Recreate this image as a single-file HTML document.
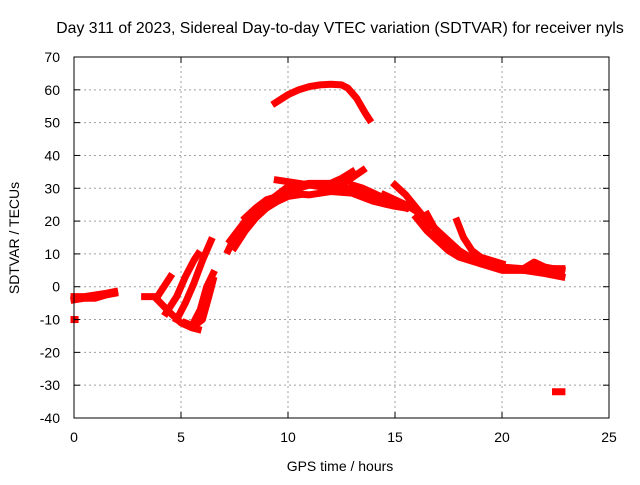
<!DOCTYPE html>
<html><head><meta charset="utf-8"><style>
body{margin:0;background:#fff}
svg text{font-family:"Liberation Sans",sans-serif;font-size:14px;fill:#000}
</style></head><body>
<svg id="chart" width="640" height="480">
<text x="340" y="33" text-anchor="middle" style="font-size:15.8px">Day 311 of 2023, Sidereal Day-to-day VTEC variation (SDTVAR) for receiver nyls</text>
<g id="grid"></g><g id="series"></g><g id="axes"></g>
<text x="340" y="471" text-anchor="middle">GPS time / hours</text>
<text transform="translate(19,238) rotate(-90)" text-anchor="middle">SDTVAR / TECUs</text>
</svg>
<script>
const xTicks=[0,5,10,15,20,25];
const yTicks=[70,60,50,40,30,20,10,0,-10,-20,-30,-40];
const tracks=[
[[9.4,56],[10,58.5],[10.5,60],[11,61],[11.5,61.5],[12,61.7],[12.5,61.5],[12.8,60.5],[13.2,57.5],[13.6,53],[13.8,51]],
[[0,-3],[0.5,-3],[1,-2.5],[1.5,-2],[1.9,-1.5]],
[[0,-4],[0.5,-3.5],[1,-3.5],[1.5,-2.5],[1.9,-2]],
[[3.3,-3],[3.9,-3]],
[[0,-10],[0.05,-10]],
[[22.5,-32],[22.8,-32]],
[[3.9,-4],[4.5,-8],[5,-11],[5.5,-12.5],[5.8,-13]],
[[4.3,-8],[4.8,-3],[5.2,3],[5.6,8],[5.8,10]],
[[4.8,-10],[5.2,-5],[5.6,1],[6,8],[6.4,14]],
[[5.5,-12],[5.9,-7],[6.2,0],[6.5,4]],
[[5.2,-11],[5.6,-12],[6,-10],[6.3,-3],[6.5,2]],
[[4,-2],[4.5,3]],
[[7.2,11],[7.5,15],[8,19],[8.5,22],[9,25],[9.5,27],[10,29],[10.5,30],[11,31],[11.5,31],[12,31],[12.5,30],[13,29],[13.5,28],[14,27],[14.5,26],[15,25],[15.5,24]],
[[7.3,14],[8,20],[8.5,23],[9,25.5],[9.5,28],[10,30.5],[11,31.5],[12,31.5],[12.5,33],[13,35]],
[[7.5,12],[8,17],[8.5,21],[9,24],[9.5,26],[10,27.5],[10.5,28]],
[[8,21],[8.5,24],[9,26.5],[9.5,27.5]],
[[9.5,32.5],[10,32],[11,31],[12,30],[13,30],[14,27],[15,25]],
[[12.5,31],[13.5,35.5]],
[[10,28.5],[11,28],[12,29],[13,28.5],[14,26],[15,24.5],[15.5,24]],
[[13,31],[13.5,30],[14,28.5],[14.5,27],[15.5,25]],
[[15,31],[15.5,28],[16,24],[16.5,20],[17,17],[17.5,14],[18,11],[18.5,9],[19,7.5],[20,6],[21,5.5],[21.5,7.5],[22,6],[22.8,5]],
[[16.5,22],[17,16],[17.5,12.5],[18,10],[19,7],[20,5],[21,5],[22,4],[22.8,3]],
[[16,21],[16.5,17],[17,14],[17.5,11],[18,9],[19,7],[20,6]],
[[17.9,20],[18.2,15],[18.6,11],[19,9],[20,7]],
[[14.5,28],[15.5,25],[16,23],[16.5,18]],
[[20,6],[21,5],[22,5.5],[22.8,5.5]]
];
const X0=74,X1=609,Y0=418,Y1=57;
const sx=v=>X0+(v-0)/25*(X1-X0);
const sy=v=>Y0-(v+40)/110*(Y0-Y1);
const NS="http://www.w3.org/2000/svg";
function mk(t,a,p){const e=document.createElementNS(NS,t);for(const k in a)e.setAttribute(k,a[k]);p.appendChild(e);return e;}
const grid=document.getElementById('grid'),axes=document.getElementById('axes'),ser=document.getElementById('series');
xTicks.forEach(v=>{
 if(v>0&&v<25){const l=mk('line',{x1:sx(v),x2:sx(v),y1:Y0,y2:Y1,stroke:'#a0a0a0','stroke-dasharray':'2,3'},grid);
 
 }
 mk('line',{x1:sx(v),x2:sx(v),y1:Y0,y2:Y0-6,stroke:'#000'},axes);
 mk('line',{x1:sx(v),x2:sx(v),y1:Y1,y2:Y1+6,stroke:'#000'},axes);
 const t=mk('text',{x:sx(v),y:Y0+24,'text-anchor':'middle'},axes);t.textContent=v;
 
 
});
yTicks.forEach(v=>{
 if(v>-40&&v<70){const l=mk('line',{x1:X0,x2:X1,y1:sy(v),y2:sy(v),stroke:'#a0a0a0','stroke-dasharray':'2,3'},grid);
 
 }
 mk('line',{x1:X0,x2:X0+6,y1:sy(v),y2:sy(v),stroke:'#000'},axes);
 mk('line',{x1:X1,x2:X1-6,y1:sy(v),y2:sy(v),stroke:'#000'},axes);
 const t=mk('text',{x:X0-14,y:sy(v)+5,'text-anchor':'end'},axes);t.textContent=v;
 
 
});
const box=mk('rect',{x:X0,y:Y1,width:X1-X0,height:Y0-Y1,fill:'none',stroke:'#000'},axes);


tracks.forEach(tr=>{
 const p=mk('polyline',{points:tr.map(d=>sx(d[0])+','+sy(d[1])).join(' '),fill:'none',stroke:'#f00','stroke-width':7,'stroke-linecap':'square','stroke-linejoin':'round'},ser);
 
 
});
</script>
</body></html>
